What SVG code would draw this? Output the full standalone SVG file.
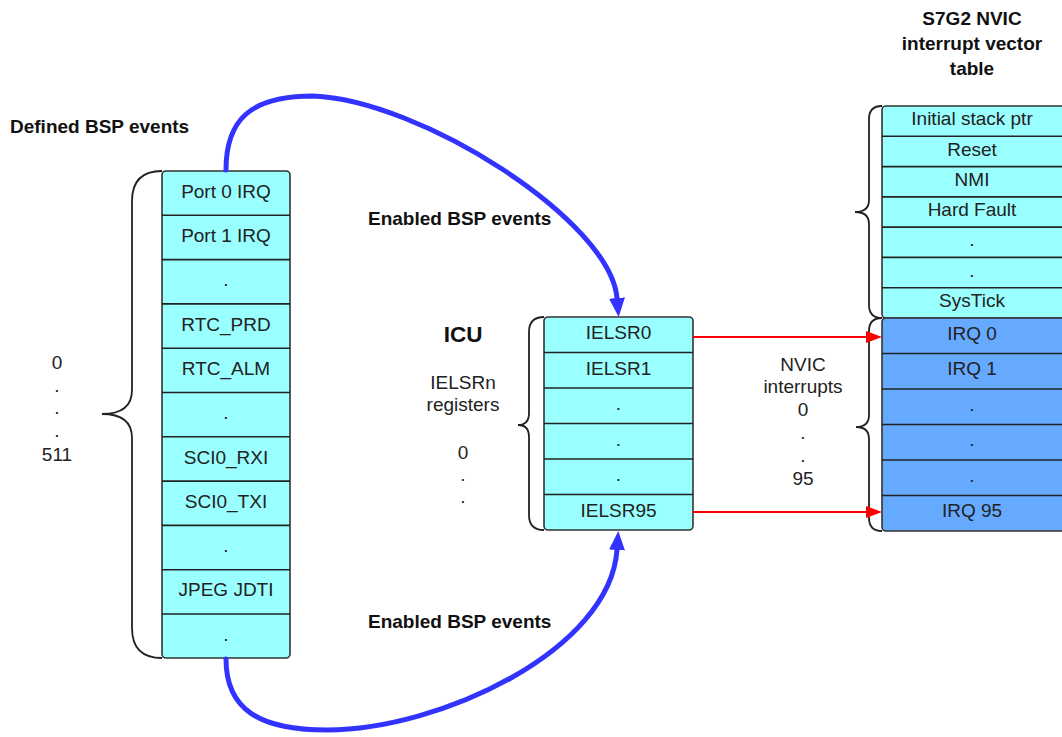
<svg xmlns="http://www.w3.org/2000/svg" width="1062" height="737" viewBox="0 0 1062 737">
<style>
.cy{fill:#99ffff;stroke:#333333;stroke-width:1.6}
.bl{fill:#66aaff;stroke:#333333;stroke-width:1.6}
.sep{stroke:#222222;stroke-width:1.6}
.t{font-family:"Liberation Sans",Arial,sans-serif;font-size:19px;fill:#222222;text-anchor:middle}
.b{font-family:"Liberation Sans",Arial,sans-serif;font-size:19px;font-weight:bold;fill:#111111}
.bc{text-anchor:middle}
.brace{fill:none;stroke:#222222;stroke-width:1.8}
.blue{fill:none;stroke:#3333ff;stroke-width:5;stroke-linecap:round}
.red{fill:none;stroke:#ff0000;stroke-width:2}
</style>
<defs>
<marker id="ab" markerUnits="userSpaceOnUse" markerWidth="20" markerHeight="16" refX="0" refY="8" orient="auto"><path d="M0,0 L19,8 L0,16 z" fill="#3333ff"/></marker>
<marker id="ar" markerUnits="userSpaceOnUse" markerWidth="17" markerHeight="12" refX="0" refY="6" orient="auto"><path d="M0,0 L16,6 L0,12 z" fill="#ff0000"/></marker>
</defs>
<rect width="1062" height="737" fill="#ffffff"/>

<g id="labels">
<text class="b" x="10" y="133">Defined BSP events</text>
<text class="b" x="368" y="225">Enabled BSP events</text>
<text class="b" x="368" y="628">Enabled BSP events</text>
<text class="b bc" x="972" y="25">S7G2 NVIC</text>
<text class="b bc" x="972" y="50">interrupt vector</text>
<text class="b bc" x="972" y="75">table</text>
<text class="t" x="57" y="369">0</text>
<text class="t" x="57" y="392">.</text>
<text class="t" x="57" y="414">.</text>
<text class="t" x="57" y="437">.</text>
<text class="t" x="57" y="461">511</text>
<text class="b bc" x="463" y="342" style="font-size:22.5px">ICU</text>
<text class="t" x="463" y="389">IELSRn</text>
<text class="t" x="463" y="411">registers</text>
<text class="t" x="463" y="459">0</text>
<text class="t" x="463" y="481">.</text>
<text class="t" x="463" y="503">.</text>
<text class="t" x="803" y="371">NVIC</text>
<text class="t" x="803" y="393">interrupts</text>
<text class="t" x="803" y="416">0</text>
<text class="t" x="803" y="439">.</text>
<text class="t" x="803" y="462">.</text>
<text class="t" x="803" y="485">95</text>
</g>

<g id="bsp-events">
<path class="brace" d="M162,171 Q132,171 132,201 L132,390 Q132,414 102,414 Q132,414 132,438 L132,628 Q132,658 162,658"/>
<rect class="cy" x="162" y="171" width="128" height="487" rx="4"/>
<g class="sep">
<line x1="162" y1="215.3" x2="290" y2="215.3"/>
<line x1="162" y1="259.6" x2="290" y2="259.6"/>
<line x1="162" y1="303.9" x2="290" y2="303.9"/>
<line x1="162" y1="348.2" x2="290" y2="348.2"/>
<line x1="162" y1="392.5" x2="290" y2="392.5"/>
<line x1="162" y1="436.8" x2="290" y2="436.8"/>
<line x1="162" y1="481.1" x2="290" y2="481.1"/>
<line x1="162" y1="525.4" x2="290" y2="525.4"/>
<line x1="162" y1="569.7" x2="290" y2="569.7"/>
<line x1="162" y1="614" x2="290" y2="614"/>
</g>
<text class="t" x="226" y="197.7">Port 0 IRQ</text>
<text class="t" x="226" y="242">Port 1 IRQ</text>
<text class="t" x="226" y="286.3">.</text>
<text class="t" x="226" y="330.6">RTC_PRD</text>
<text class="t" x="226" y="374.9">RTC_ALM</text>
<text class="t" x="226" y="419.2">.</text>
<text class="t" x="226" y="463.5">SCI0_RXI</text>
<text class="t" x="226" y="507.8">SCI0_TXI</text>
<text class="t" x="226" y="552.1">.</text>
<text class="t" x="226" y="596.4">JPEG JDTI</text>
<text class="t" x="226" y="640.7">.</text>
</g>

<g id="icu">
<path class="brace" d="M544,317 Q529,317 529,332 L529,413 Q529,425 518,425 Q529,425 529,437 L529,515 Q529,530 544,530"/>
<rect class="cy" x="544" y="317" width="149" height="213" rx="4"/>
<g class="sep">
<line x1="544" y1="352.5" x2="693" y2="352.5"/>
<line x1="544" y1="388" x2="693" y2="388"/>
<line x1="544" y1="423.5" x2="693" y2="423.5"/>
<line x1="544" y1="459" x2="693" y2="459"/>
<line x1="544" y1="494.5" x2="693" y2="494.5"/>
</g>
<text class="t" x="618.5" y="339.3">IELSR0</text>
<text class="t" x="618.5" y="374.8">IELSR1</text>
<text class="t" x="618.5" y="410.3">.</text>
<text class="t" x="618.5" y="445.8">.</text>
<text class="t" x="618.5" y="481.3">.</text>
<text class="t" x="618.5" y="516.8">IELSR95</text>
</g>

<g id="nvic-table">
<path class="brace" d="M882,106 Q869,106 869,119 L869,200 Q869,212 855,212 Q869,212 869,224 L869,305 Q869,318 882,318"/>
<path class="brace" d="M882,318 Q869,318 869,331 L869,415 Q869,427 856,427 Q869,427 869,439 L869,518 Q869,531 882,531"/>
<rect class="cy" x="882" y="106" width="186" height="212" rx="4"/>
<rect class="bl" x="882" y="318" width="186" height="213" rx="4"/>
<g class="sep">
<line x1="882" y1="136.3" x2="1062" y2="136.3"/>
<line x1="882" y1="166.6" x2="1062" y2="166.6"/>
<line x1="882" y1="196.9" x2="1062" y2="196.9"/>
<line x1="882" y1="227.1" x2="1062" y2="227.1"/>
<line x1="882" y1="257.4" x2="1062" y2="257.4"/>
<line x1="882" y1="287.7" x2="1062" y2="287.7"/>
<line x1="882" y1="353.5" x2="1062" y2="353.5"/>
<line x1="882" y1="389" x2="1062" y2="389"/>
<line x1="882" y1="424.5" x2="1062" y2="424.5"/>
<line x1="882" y1="460" x2="1062" y2="460"/>
<line x1="882" y1="495.5" x2="1062" y2="495.5"/>
</g>
<text class="t" x="972" y="125.2">Initial stack ptr</text>
<text class="t" x="972" y="155.5">Reset</text>
<text class="t" x="972" y="185.8">NMI</text>
<text class="t" x="972" y="216">Hard Fault</text>
<text class="t" x="972" y="246.3">.</text>
<text class="t" x="972" y="276.6">.</text>
<text class="t" x="972" y="306.9">SysTick</text>
<text class="t" x="972" y="339.8">IRQ 0</text>
<text class="t" x="972" y="375.3">IRQ 1</text>
<text class="t" x="972" y="410.8">.</text>
<text class="t" x="972" y="446.3">.</text>
<text class="t" x="972" y="481.8">.</text>
<text class="t" x="972" y="517.3">IRQ 95</text>
</g>

<g id="connectors">
<path class="blue" d="M226,170 C226,120 250,96 313,96 C420,100 610,220 617,298" marker-end="url(#ab)"/>
<path class="blue" d="M226,659 C226,710 260,730 327,730 C440,730 610,650 617,550" marker-end="url(#ab)"/>
<line class="red" x1="693" y1="337" x2="866" y2="337" marker-end="url(#ar)"/>
<line class="red" x1="693" y1="512" x2="866" y2="512" marker-end="url(#ar)"/>
</g>
</svg>
